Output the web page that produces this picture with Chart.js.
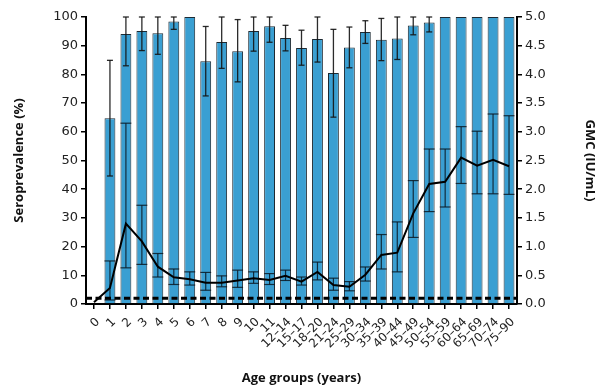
<!DOCTYPE html>
<html>
<head>
<meta charset="utf-8">
<script src="https://cdn.jsdelivr.net/npm/chart.js@4.4.1/dist/chart.umd.min.js"></script>
<style>
  html, body { margin: 0; padding: 0; background: #fff; }
  #wrap { width: 598px; height: 386px; }
</style>
</head>
<body>
<div id="wrap"><canvas id="chart" width="598" height="386"></canvas></div>
<script>
// Age groups (years)
const ageGroups = ['0', '1', '2', '3', '4', '5', '6', '7', '8', '9', '10', '11',
  '12–14', '15–17', '18–20', '21–24', '25–29', '30–34', '35–39', '40–44',
  '45–49', '50–54', '55–59', '60–64', '65–69', '70–74', '75–90'];

// Seroprevalence (%) with 95% CI
const seroprevalence = [0, 64.7, 94.1, 95.1, 94.3, 98.4, 100, 84.6, 91.3, 88.1, 95.1, 96.8,
  92.7, 89.2, 92.3, 80.5, 89.4, 94.8, 92.1, 92.5, 97.0, 98.1, 100, 100, 100, 100, 100];
const seroLower = [null, 44.6, 83.0, 88.3, 87.0, 95.7, null, 72.5, 82.1, 77.4, 88.1, 91.2,
  88.2, 83.2, 84.3, 65.1, 82.3, 90.8, 84.8, 85.2, 93.8, 94.8, null, null, null, null, null];
const seroUpper = [null, 84.9, 100, 100, 100, 100, null, 96.7, 100, 99.1, 100, 100,
  97.1, 95.4, 100, 95.7, 96.5, 98.7, 99.5, 100, 100, 100, null, null, null, null, null];

// Geometric mean concentration (IU/mL) with 95% CI
const gmc = [0.03, 0.28, 1.40, 1.09, 0.65, 0.465, 0.43, 0.37, 0.37, 0.41, 0.45, 0.42,
  0.49, 0.39, 0.56, 0.33, 0.30, 0.51, 0.855, 0.895, 1.58, 2.09, 2.13, 2.55, 2.41, 2.51, 2.40];
const gmcLower = [null, 0.07, 0.63, 0.69, 0.47, 0.34, 0.33, 0.24, 0.30, 0.29, 0.36, 0.34,
  0.41, 0.33, 0.42, 0.24, 0.23, 0.40, 0.61, 0.56, 1.16, 1.61, 1.69, 2.10, 1.92, 1.92, 1.91];
const gmcUpper = [null, 0.75, 3.15, 1.72, 0.88, 0.61, 0.56, 0.55, 0.49, 0.59, 0.56, 0.53,
  0.59, 0.47, 0.73, 0.45, 0.39, 0.645, 1.21, 1.43, 2.15, 2.70, 2.70, 3.09, 3.01, 3.31, 3.28];

// Seroprotection cut-off (IU/mL)
const cutoff = 0.1;

const yTickFont = { family: 'DejaVu Sans', size: 13 };
const xTickFont = { family: 'DejaVu Sans', size: 12 };
const titleFont = { family: 'Open Sans', size: 13, weight: 'bold' };

function vline(ctx, x, y1, y2) {
  ctx.beginPath(); ctx.moveTo(x, y1); ctx.lineTo(x, y2); ctx.stroke();
}
function hline(ctx, x1, x2, y) {
  ctx.beginPath(); ctx.moveTo(x1, y); ctx.lineTo(x2, y); ctx.stroke();
}

// Confidence intervals for both series, drawn right after the bars
const intervals = {
  id: 'intervals',
  afterDatasetDraw(chart, args) {
    if (args.index !== 0) return;
    const { ctx, scales: { x, y, y2 } } = chart;
    const bars = chart.getDatasetMeta(0).data;
    ctx.save();
    // GMC intervals inside the bars
    ctx.strokeStyle = 'rgba(10,25,35,0.85)';
    ctx.lineWidth = 1.2;
    gmc.forEach((_, i) => {
      if (gmcLower[i] == null) return;
      const cx = x.getPixelForValue(i);
      const half = bars[i].width / 2;
      const lo = y2.getPixelForValue(gmcLower[i]);
      const hi = y2.getPixelForValue(gmcUpper[i]);
      vline(ctx, cx, lo, hi);
      hline(ctx, cx - half, cx + half, lo);
      hline(ctx, cx - half, cx + half, hi);
    });
    // Seroprevalence intervals
    ctx.strokeStyle = 'rgba(20,20,20,0.9)';
    ctx.lineWidth = 1.3;
    seroprevalence.forEach((_, i) => {
      if (seroLower[i] == null) return;
      const cx = x.getPixelForValue(i);
      const lo = y.getPixelForValue(seroLower[i]);
      const hi = y.getPixelForValue(seroUpper[i]);
      vline(ctx, cx, lo, hi);
      hline(ctx, cx - 3, cx + 3, lo);
      hline(ctx, cx - 3, cx + 3, hi);
    });
    ctx.restore();
  }
};

// Dashed cut-off line across the plot
const cutoffLine = {
  id: 'cutoffLine',
  afterDatasetsDraw(chart) {
    const { ctx, chartArea, scales: { y2 } } = chart;
    const py = y2.getPixelForValue(cutoff);
    ctx.save();
    ctx.strokeStyle = '#000';
    ctx.lineWidth = 3;
    ctx.setLineDash([6, 3.5]);
    hline(ctx, chartArea.left, chartArea.right, py);
    ctx.restore();
  }
};

new Chart(document.getElementById('chart'), {
  data: {
    labels: ageGroups,
    datasets: [
      {
        type: 'bar',
        label: 'Seroprevalence (%)',
        data: seroprevalence,
        yAxisID: 'y',
        backgroundColor: '#3a9fd2',
        borderColor: '#1d2a33',
        borderWidth: 1,
        categoryPercentage: 1,
        barPercentage: 0.68,
        order: 2
      },
      {
        type: 'line',
        label: 'GMC (IU/mL)',
        data: gmc,
        yAxisID: 'y2',
        borderColor: '#000',
        borderWidth: 2,
        pointRadius: 0,
        tension: 0,
        fill: false,
        order: 1
      }
    ]
  },
  options: {
    responsive: false,
    animation: false,
    layout: { padding: { top: 17, left: 0, right: 0, bottom: 0 } },
    plugins: { legend: { display: false }, tooltip: { enabled: false } },
    scales: {
      x: {
        offset: true,
        grid: { offset: false, drawOnChartArea: false, drawTicks: true, tickLength: 5, color: '#000', lineWidth: 1.5 },
        border: { color: '#000', width: 2 },
        ticks: { color: '#222', font: xTickFont, minRotation: 45, maxRotation: 45, autoSkip: false, padding: 6, labelOffset: 4 },
        title: { display: true, text: 'Age groups (years)', color: '#111', font: titleFont, padding: { top: 0, bottom: 0 } },
        afterFit(s) { s.height = 82; }
      },
      y: {
        position: 'left',
        min: 0, max: 100,
        grid: { drawOnChartArea: false, drawTicks: true, tickLength: 5, color: '#000', lineWidth: 1.5 },
        border: { color: '#000', width: 2 },
        ticks: { stepSize: 10, color: '#222', font: yTickFont, padding: 3 },
        title: { display: true, text: 'Seroprevalence (%)', color: '#111', font: titleFont, padding: { top: 11, bottom: 0 } },
        afterFit(s) { s.width = 86; }
      },
      y2: {
        position: 'right',
        min: 0, max: 5,
        grid: { drawOnChartArea: false, drawTicks: true, tickLength: 5, color: '#000', lineWidth: 1.5 },
        border: { color: '#000', width: 2 },
        ticks: { stepSize: 0.5, color: '#222', font: yTickFont, padding: 3, callback: v => v.toFixed(1) },
        title: { display: true, text: 'GMC (IU/mL)', color: '#111', font: titleFont, padding: { top: 0, bottom: 0 } },
        afterFit(s) { s.width = 81; }
      }
    }
  },
  plugins: [intervals, cutoffLine]
});
</script>
</body>
</html>
